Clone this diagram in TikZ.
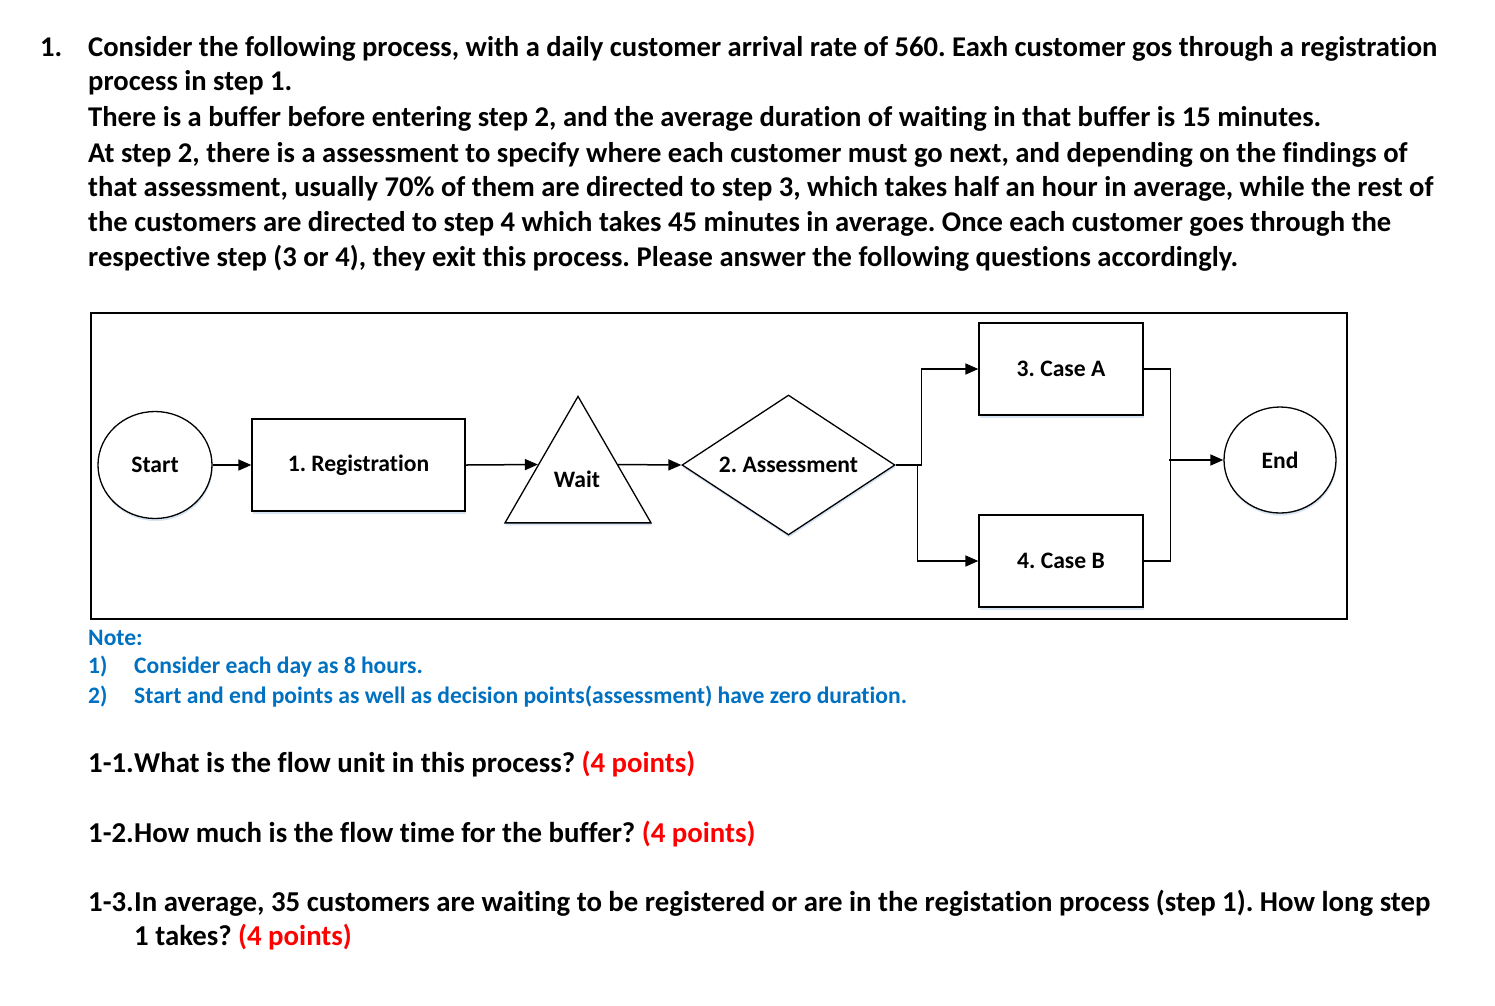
\documentclass[tikz,border=0pt]{standalone}
\usepackage{fontspec}
\setmainfont{Carlito}[Ligatures=NoCommon,BoldFont={Carlito Bold}]
\usetikzlibrary{shapes.geometric,arrows.meta,shadows}
\definecolor{noteblue}{RGB}{0,112,192}
\definecolor{ptred}{RGB}{255,0,0}
\definecolor{shadowblue}{RGB}{214,228,244}
\frenchspacing
\begin{document}
\begin{tikzpicture}[x=1pt,y=-1pt,
  txt/.style={anchor=base west,inner sep=0pt,font=\fontsize{28.6}{34}\selectfont\bfseries},
  notetxt/.style={anchor=base west,inner sep=0pt,text=noteblue,font=\fontsize{23.6}{29}\selectfont\bfseries},
  qtxt/.style={anchor=base west,inner sep=0pt,font=\fontsize{28.8}{34}\selectfont\bfseries},
  shp/.style={draw,fill=white,line width=1.3pt,inner sep=0pt,
    drop shadow={shadow xshift=0.6pt,shadow yshift=-2.5pt,fill=shadowblue,opacity=1},
    font=\fontsize{23.6}{28}\selectfont\bfseries},
  arr/.style={line width=1.5pt,-{Triangle[length=13pt,width=11pt]}},
  ln/.style={line width=1.5pt}]
\useasboundingbox (0,0) rectangle (1495,1005);
% paragraph
\node[txt] (n1) at (40,56) {1.};
\node[txt] (l1) at (88,56) {Consider the following process, with a daily customer arrival rate of 560. Eaxh customer gos through a registration};
\node[txt] (l2) at (88,90) {process in step 1.};
\node[txt] (l3) at (88,126) {There is a buffer before entering step 2, and the average duration of waiting in that buffer is 15 minutes.};
\node[txt] (l4) at (88,162) {At step 2, there is a assessment to specify where each customer must go next, and depending on the findings of};
\node[txt] (l5) at (88,196) {that assessment, usually 70\% of them are directed to step 3, which takes half an hour in average, while the rest of};
\node[txt] (l6) at (88,231) {the customers are directed to step 4 which takes 45 minutes in average. Once each customer goes through the};
\node[txt] (l7) at (88,266) {respective step (3 or 4), they exit this process. Please answer the following questions accordingly.};
% frame
\draw[line width=1.8pt] (91,313) rectangle (1347,619);
% shapes
\node[shp,ellipse,minimum width=114,minimum height=107] (start) at (155,465) {Start};
\node[shp,rectangle,minimum width=213,minimum height=92] (reg) at (358.5,465) {1. Registration};
\node[shp,regular polygon,regular polygon sides=3,minimum size=168.6] (wait) at (578,480.7) {};
\node[inner sep=0pt,font=\fontsize{23.6}{28}\selectfont\bfseries] (waitlbl) at (577,479) {Wait};
\node[shp,diamond,aspect=1.52,minimum width=213,minimum height=140] (assess) at (788.5,465) {2. Assessment};
\node[shp,rectangle,minimum width=164,minimum height=92] (caseA) at (1061,369) {3. Case A};
\node[shp,rectangle,minimum width=164,minimum height=92] (caseB) at (1061,561) {4. Case B};
\node[shp,ellipse,minimum width=112,minimum height=106] (end) at (1280,460) {End};
% connectors
\draw[arr] (start.east) -- (reg.west);
\draw[arr] (reg.east) -- (wait.158);
\draw[arr] (wait.22) -- (assess.west);
\draw[arr] (assess.east) -- ++(26,0) |- (caseA.west);
\draw[arr] ([xshift=22pt]assess.east) |- (caseB.west);
\draw[ln] (caseA.east) -- ++(27,0) |- (caseB.east);
\draw[arr] ([xshift=-54pt]end.west) -- (end.west);
% notes
\node[notetxt] (note) at (88,645) {Note:};
\node[notetxt] (n1a) at (88,673) {1)};
\node[notetxt] (n1b) at (134,673) {Consider each day as 8 hours.};
\node[notetxt] (n2a) at (88,703) {2)};
\node[notetxt] (n2b) at (134,703) {Start and end points as well as decision points(assessment) have zero duration.};
% questions
\node[qtxt] (q1a) at (88,772) {1-1.};
\node[qtxt] (q1b) at (134,772) {What is the flow unit in this process? \textcolor{ptred}{(4 points)}};
\node[qtxt] (q2a) at (88,842) {1-2.};
\node[qtxt] (q2b) at (134,842) {How much is the flow time for the buffer? \textcolor{ptred}{(4 points)}};
\node[qtxt] (q3a) at (88,911) {1-3.};
\node[qtxt] (q3b) at (134,911) {In average, 35 customers are waiting to be registered or are in the registation process (step 1). How long step};
\node[qtxt] (q3c) at (134,945) {1 takes? \textcolor{ptred}{(4 points)}};
\end{tikzpicture}
\end{document}
